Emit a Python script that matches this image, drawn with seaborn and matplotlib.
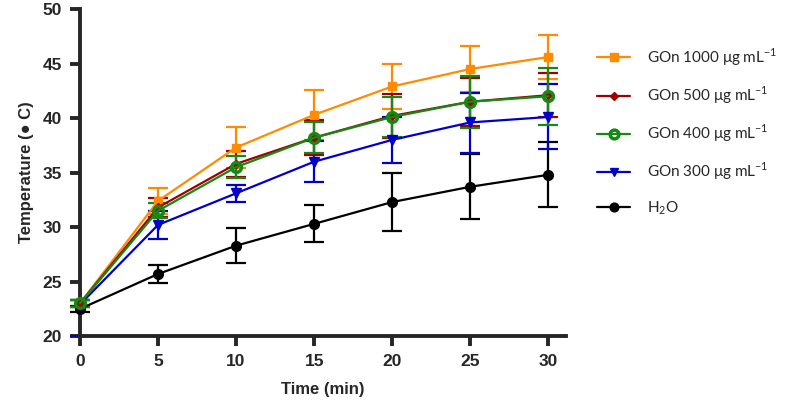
import numpy as np
import pandas as pd
import matplotlib
matplotlib.use("Agg")
import matplotlib.pyplot as plt
import seaborn as sns
from matplotlib.lines import Line2D

time = [0, 5, 10, 15, 20, 25, 30]

gon1000 = [23.0, 32.4, 37.3, 40.3, 42.9, 44.5, 45.6]
gon1000_err = [0.3, 1.2, 1.9, 2.3, 2.1, 2.1, 2.0]

gon500 = [23.0, 31.8, 35.8, 38.2, 40.2, 41.5, 42.1]
gon500_err = [0.3, 0.9, 1.2, 1.6, 2.0, 2.2, 2.0]

gon400 = [23.0, 31.5, 35.5, 38.2, 40.1, 41.5, 42.0]
gon400_err = [0.3, 0.7, 1.0, 1.4, 1.8, 2.4, 2.6]

gon300 = [22.9, 30.2, 33.1, 36.0, 38.0, 39.6, 40.1]
gon300_err_lo = [2.9, 1.3, 0.8, 1.9, 2.1, 2.8, 2.9]
gon300_err_hi = [0.4, 1.3, 0.8, 1.9, 2.1, 2.7, 3.0]

h2o = [22.5, 25.7, 28.3, 30.3, 32.3, 33.7, 34.8]
h2o_err = [0.3, 0.8, 1.6, 1.7, 2.7, 3.0, 3.0]

labels = ["GOn 1000 μg mL$^{-1}$", "GOn 500 μg mL$^{-1}$", "GOn 400 μg mL$^{-1}$",
          "GOn 300 μg mL$^{-1}$", "H$_2$O"]

sns.set_style("ticks")
plt.rcParams['font.family'] = ['Liberation Sans', 'DejaVu Sans']
plt.rcParams['mathtext.fontset'] = 'custom'
plt.rcParams['mathtext.rm'] = 'Lato'

fig = plt.figure(figsize=(7.91, 4.09), dpi=100)
ax = fig.add_axes([0.101, 0.178, 0.615, 0.8])

series = [
    # (values, err_lo, err_hi, color, marker, ms, mfc, mew)
    (h2o, h2o_err, h2o_err, "black", "o", 7, "black", 1),
    (gon1000, gon1000_err, gon1000_err, "#ff8c00", "s", 6, "#ff8c00", 1),
    (gon300, gon300_err_lo, gon300_err_hi, "#0000cc", "v", 6.5, "#0000cc", 1),
    (gon500, gon500_err, gon500_err, "#a00000", "D", 4, "#a00000", 1),
    (gon400, gon400_err, gon400_err, "#138a13", "o", 7, "none", 2.5),
]

for vals, elo, ehi, col, mk, ms, mfc, mew in series:
    df = pd.DataFrame({"t": time, "v": vals})
    ax.errorbar(time, vals, yerr=[elo, ehi], fmt="none", ecolor=col,
                elinewidth=1.6, capsize=7, capthick=1.6, clip_on=False, zorder=2)
    sns.lineplot(data=df, x="t", y="v", ax=ax, color=col, linewidth=1.6,
                 marker=mk, markersize=ms, markerfacecolor=mfc,
                 markeredgecolor=col, markeredgewidth=mew, clip_on=False,
                 legend=False, zorder=3)

ax.set_xlim(0, 31.15)
ax.set_ylim(20, 50)
ax.set_xticks(time)
ax.set_yticks([20, 25, 30, 35, 40, 45, 50])
for s in ["top", "right"]:
    ax.spines[s].set_visible(False)
for s in ["left", "bottom"]:
    ax.spines[s].set_linewidth(2.8)
ax.tick_params(width=2.8, length=7, labelsize=12.5, pad=6)
for t in ax.get_xticklabels() + ax.get_yticklabels():
    t.set_fontweight("bold")
ax.set_xlabel("Time (min)", fontsize=12, fontweight="bold", labelpad=9)
ax.set_ylabel("Temperature (● C)", fontsize=12, fontweight="bold", labelpad=6)

# legend
leg_order = [1, 3, 4, 2, 0]
handles = []
for i in leg_order:
    vals, elo, ehi, col, mk, ms, mfc, mew = series[i]
    handles.append(Line2D([0], [0], color=col, lw=1.6, marker=mk,
                          markersize=ms * 0.9, markerfacecolor=mfc,
                          markeredgecolor=col, markeredgewidth=mew))
leg = fig.legend(handles, labels, loc="upper left", bbox_to_anchor=(0.737, 0.92),
                 frameon=False, labelspacing=1.08, handlelength=2.2,
                 handletextpad=1.1, prop={"family": ["Lato", "DejaVu Sans"], "size": 11})

fig.savefig("out.png", dpi=100)
